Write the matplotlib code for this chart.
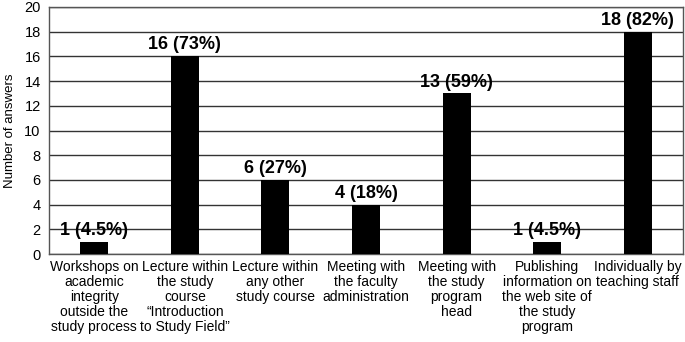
import matplotlib.pyplot as plt
import numpy as np

plt.rcParams['font.family'] = ['Liberation Sans', 'DejaVu Sans']

categories = [
    "Workshops on\nacademic\nintegrity\noutside the\nstudy process",
    "Lecture within\nthe study\ncourse\n\u201cIntroduction\nto Study Field\u201d",
    "Lecture within\nany other\nstudy course",
    "Meeting with\nthe faculty\nadministration",
    "Meeting with\nthe study\nprogram\nhead",
    "Publishing\ninformation on\nthe web site of\nthe study\nprogram",
    "Individually by\nteaching staff",
]
answers = [1, 16, 6, 4, 13, 1, 18]
percent_labels = ["4.5%", "73%", "27%", "18%", "59%", "4.5%", "82%"]

fig = plt.figure(figsize=(6.85, 3.42), dpi=100)
ax = fig.add_axes([49 / 685, 1 - 254 / 342, 634 / 685, 247 / 342])

x = np.arange(len(categories))
ax.bar(x, answers, width=0.31, color='black', zorder=3)

for xi, v, p in zip(x, answers, percent_labels):
    ax.annotate(f"{v} ({p})", (xi, v), xytext=(0, 5), textcoords='offset points',
                ha='center', va='baseline', fontsize=13, fontweight='bold', zorder=4)

ax.set_xlim(-0.5, len(categories) - 0.5)
ax.set_ylim(0, 20)
ax.set_yticks(range(0, 21, 2))
ax.yaxis.grid(True, color='#333333', linewidth=1.0, zorder=0)
ax.set_axisbelow(True)
ax.set_xticks(x)
ax.set_xticklabels(categories, fontsize=10, linespacing=1.09)
ax.tick_params(axis='x', length=0, pad=4)
ax.tick_params(axis='y', length=0, labelsize=10.5, pad=6)
ax.set_ylabel("Number of answers", fontsize=9.5, labelpad=6)
for s in ax.spines.values():
    s.set_color('#555555')
    s.set_linewidth(1.0)

fig.savefig('out.png', dpi=100)
